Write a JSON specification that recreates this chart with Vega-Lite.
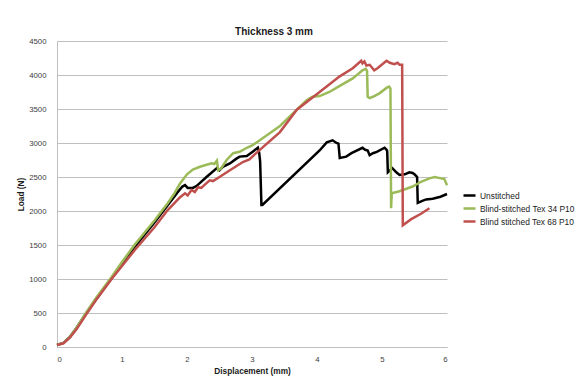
{
  "$schema": "https://vega.github.io/schema/vega-lite/v6.json",
  "width": 390,
  "height": 306,
  "autosize": {"type": "none"},
  "padding": {"left": 57, "top": 41, "right": 131, "bottom": 39},
  "background": "#ffffff",
  "title": {
    "text": "Thickness 3 mm",
    "font": "Liberation Sans",
    "fontSize": 10,
    "fontWeight": "bold",
    "color": "#1a1a1a",
    "anchor": "middle",
    "frame": "group",
    "baseline": "alphabetic",
    "offset": -8,
    "dx": 22
  },
  "config": {
    "view": {"stroke": null},
    "font": "Liberation Sans"
  },
  "data": {
    "values": [
      {"s": "Unstitched", "x": 0, "y": 30},
      {"s": "Unstitched", "x": 0.1, "y": 60},
      {"s": "Unstitched", "x": 0.2, "y": 150},
      {"s": "Unstitched", "x": 0.3, "y": 280},
      {"s": "Unstitched", "x": 0.45, "y": 500},
      {"s": "Unstitched", "x": 0.6, "y": 700},
      {"s": "Unstitched", "x": 0.84, "y": 1010},
      {"s": "Unstitched", "x": 1.0, "y": 1220},
      {"s": "Unstitched", "x": 1.2, "y": 1480},
      {"s": "Unstitched", "x": 1.5, "y": 1830},
      {"s": "Unstitched", "x": 1.7, "y": 2080},
      {"s": "Unstitched", "x": 1.85, "y": 2270},
      {"s": "Unstitched", "x": 1.93, "y": 2360},
      {"s": "Unstitched", "x": 1.97, "y": 2380},
      {"s": "Unstitched", "x": 2.01, "y": 2340},
      {"s": "Unstitched", "x": 2.09, "y": 2340},
      {"s": "Unstitched", "x": 2.15, "y": 2370},
      {"s": "Unstitched", "x": 2.3, "y": 2500},
      {"s": "Unstitched", "x": 2.46, "y": 2630},
      {"s": "Unstitched", "x": 2.5, "y": 2600},
      {"s": "Unstitched", "x": 2.55, "y": 2650},
      {"s": "Unstitched", "x": 2.66, "y": 2700},
      {"s": "Unstitched", "x": 2.76, "y": 2770},
      {"s": "Unstitched", "x": 2.81, "y": 2800},
      {"s": "Unstitched", "x": 2.92, "y": 2810},
      {"s": "Unstitched", "x": 3.01, "y": 2870},
      {"s": "Unstitched", "x": 3.09, "y": 2930},
      {"s": "Unstitched", "x": 3.11, "y": 2860},
      {"s": "Unstitched", "x": 3.125, "y": 2730},
      {"s": "Unstitched", "x": 3.145, "y": 2090},
      {"s": "Unstitched", "x": 3.16, "y": 2090},
      {"s": "Unstitched", "x": 4.04, "y": 2890},
      {"s": "Unstitched", "x": 4.15, "y": 3010},
      {"s": "Unstitched", "x": 4.24, "y": 3040},
      {"s": "Unstitched", "x": 4.3, "y": 3000},
      {"s": "Unstitched", "x": 4.33, "y": 2990},
      {"s": "Unstitched", "x": 4.35, "y": 2780},
      {"s": "Unstitched", "x": 4.45, "y": 2800},
      {"s": "Unstitched", "x": 4.53, "y": 2850},
      {"s": "Unstitched", "x": 4.7, "y": 2930},
      {"s": "Unstitched", "x": 4.74, "y": 2900},
      {"s": "Unstitched", "x": 4.78, "y": 2890},
      {"s": "Unstitched", "x": 4.81, "y": 2820},
      {"s": "Unstitched", "x": 4.86, "y": 2850},
      {"s": "Unstitched", "x": 4.92, "y": 2870},
      {"s": "Unstitched", "x": 5.04, "y": 2930},
      {"s": "Unstitched", "x": 5.07, "y": 2900},
      {"s": "Unstitched", "x": 5.08, "y": 2880},
      {"s": "Unstitched", "x": 5.09, "y": 2570},
      {"s": "Unstitched", "x": 5.16, "y": 2630},
      {"s": "Unstitched", "x": 5.22, "y": 2570},
      {"s": "Unstitched", "x": 5.27, "y": 2530},
      {"s": "Unstitched", "x": 5.35, "y": 2540},
      {"s": "Unstitched", "x": 5.42, "y": 2570},
      {"s": "Unstitched", "x": 5.47, "y": 2560},
      {"s": "Unstitched", "x": 5.5, "y": 2540},
      {"s": "Unstitched", "x": 5.54, "y": 2500},
      {"s": "Unstitched", "x": 5.55, "y": 2120},
      {"s": "Unstitched", "x": 5.62, "y": 2150},
      {"s": "Unstitched", "x": 5.68, "y": 2170},
      {"s": "Unstitched", "x": 5.78, "y": 2180},
      {"s": "Unstitched", "x": 5.9, "y": 2210},
      {"s": "Unstitched", "x": 6.0, "y": 2250},

      {"s": "Blind-stitched Tex 34 P10", "x": 0, "y": 30},
      {"s": "Blind-stitched Tex 34 P10", "x": 0.1, "y": 60},
      {"s": "Blind-stitched Tex 34 P10", "x": 0.2, "y": 150},
      {"s": "Blind-stitched Tex 34 P10", "x": 0.3, "y": 280},
      {"s": "Blind-stitched Tex 34 P10", "x": 0.45, "y": 510},
      {"s": "Blind-stitched Tex 34 P10", "x": 0.6, "y": 720},
      {"s": "Blind-stitched Tex 34 P10", "x": 0.84, "y": 1030},
      {"s": "Blind-stitched Tex 34 P10", "x": 1.0, "y": 1250},
      {"s": "Blind-stitched Tex 34 P10", "x": 1.2, "y": 1510},
      {"s": "Blind-stitched Tex 34 P10", "x": 1.5, "y": 1860},
      {"s": "Blind-stitched Tex 34 P10", "x": 1.7, "y": 2110},
      {"s": "Blind-stitched Tex 34 P10", "x": 1.8, "y": 2250},
      {"s": "Blind-stitched Tex 34 P10", "x": 1.89, "y": 2400},
      {"s": "Blind-stitched Tex 34 P10", "x": 2.0, "y": 2540},
      {"s": "Blind-stitched Tex 34 P10", "x": 2.09, "y": 2610},
      {"s": "Blind-stitched Tex 34 P10", "x": 2.2, "y": 2650},
      {"s": "Blind-stitched Tex 34 P10", "x": 2.3, "y": 2680},
      {"s": "Blind-stitched Tex 34 P10", "x": 2.38, "y": 2700},
      {"s": "Blind-stitched Tex 34 P10", "x": 2.42, "y": 2690},
      {"s": "Blind-stitched Tex 34 P10", "x": 2.46, "y": 2740},
      {"s": "Blind-stitched Tex 34 P10", "x": 2.48, "y": 2600},
      {"s": "Blind-stitched Tex 34 P10", "x": 2.52, "y": 2620},
      {"s": "Blind-stitched Tex 34 P10", "x": 2.61, "y": 2750},
      {"s": "Blind-stitched Tex 34 P10", "x": 2.71, "y": 2850},
      {"s": "Blind-stitched Tex 34 P10", "x": 2.81, "y": 2870},
      {"s": "Blind-stitched Tex 34 P10", "x": 2.92, "y": 2930},
      {"s": "Blind-stitched Tex 34 P10", "x": 3.01, "y": 2970},
      {"s": "Blind-stitched Tex 34 P10", "x": 3.12, "y": 3040},
      {"s": "Blind-stitched Tex 34 P10", "x": 3.43, "y": 3250},
      {"s": "Blind-stitched Tex 34 P10", "x": 3.69, "y": 3490},
      {"s": "Blind-stitched Tex 34 P10", "x": 3.84, "y": 3630},
      {"s": "Blind-stitched Tex 34 P10", "x": 3.93, "y": 3680},
      {"s": "Blind-stitched Tex 34 P10", "x": 4.04, "y": 3690},
      {"s": "Blind-stitched Tex 34 P10", "x": 4.19, "y": 3750},
      {"s": "Blind-stitched Tex 34 P10", "x": 4.35, "y": 3840},
      {"s": "Blind-stitched Tex 34 P10", "x": 4.55, "y": 3950},
      {"s": "Blind-stitched Tex 34 P10", "x": 4.7, "y": 4070},
      {"s": "Blind-stitched Tex 34 P10", "x": 4.75, "y": 4090},
      {"s": "Blind-stitched Tex 34 P10", "x": 4.77, "y": 4060},
      {"s": "Blind-stitched Tex 34 P10", "x": 4.78, "y": 3680},
      {"s": "Blind-stitched Tex 34 P10", "x": 4.81, "y": 3660},
      {"s": "Blind-stitched Tex 34 P10", "x": 4.86, "y": 3680},
      {"s": "Blind-stitched Tex 34 P10", "x": 4.96, "y": 3730},
      {"s": "Blind-stitched Tex 34 P10", "x": 5.07, "y": 3810},
      {"s": "Blind-stitched Tex 34 P10", "x": 5.11, "y": 3830},
      {"s": "Blind-stitched Tex 34 P10", "x": 5.13, "y": 3800},
      {"s": "Blind-stitched Tex 34 P10", "x": 5.14, "y": 2040},
      {"s": "Blind-stitched Tex 34 P10", "x": 5.15, "y": 2260},
      {"s": "Blind-stitched Tex 34 P10", "x": 5.27, "y": 2290},
      {"s": "Blind-stitched Tex 34 P10", "x": 5.47, "y": 2360},
      {"s": "Blind-stitched Tex 34 P10", "x": 5.6, "y": 2430},
      {"s": "Blind-stitched Tex 34 P10", "x": 5.73, "y": 2480},
      {"s": "Blind-stitched Tex 34 P10", "x": 5.81, "y": 2500},
      {"s": "Blind-stitched Tex 34 P10", "x": 5.91, "y": 2480},
      {"s": "Blind-stitched Tex 34 P10", "x": 5.96, "y": 2470},
      {"s": "Blind-stitched Tex 34 P10", "x": 6.0, "y": 2380},

      {"s": "Blind stitched Tex 68 P10", "x": 0, "y": 30},
      {"s": "Blind stitched Tex 68 P10", "x": 0.1, "y": 55},
      {"s": "Blind stitched Tex 68 P10", "x": 0.2, "y": 140},
      {"s": "Blind stitched Tex 68 P10", "x": 0.3, "y": 260},
      {"s": "Blind stitched Tex 68 P10", "x": 0.45, "y": 480},
      {"s": "Blind stitched Tex 68 P10", "x": 0.6, "y": 690},
      {"s": "Blind stitched Tex 68 P10", "x": 0.84, "y": 1000},
      {"s": "Blind stitched Tex 68 P10", "x": 1.0, "y": 1190},
      {"s": "Blind stitched Tex 68 P10", "x": 1.2, "y": 1430},
      {"s": "Blind stitched Tex 68 P10", "x": 1.5, "y": 1760},
      {"s": "Blind stitched Tex 68 P10", "x": 1.7, "y": 2010},
      {"s": "Blind stitched Tex 68 P10", "x": 1.89, "y": 2200},
      {"s": "Blind stitched Tex 68 P10", "x": 1.97, "y": 2260},
      {"s": "Blind stitched Tex 68 P10", "x": 2.01, "y": 2230},
      {"s": "Blind stitched Tex 68 P10", "x": 2.07, "y": 2310},
      {"s": "Blind stitched Tex 68 P10", "x": 2.12, "y": 2280},
      {"s": "Blind stitched Tex 68 P10", "x": 2.17, "y": 2350},
      {"s": "Blind stitched Tex 68 P10", "x": 2.22, "y": 2340},
      {"s": "Blind stitched Tex 68 P10", "x": 2.3, "y": 2410},
      {"s": "Blind stitched Tex 68 P10", "x": 2.35, "y": 2450},
      {"s": "Blind stitched Tex 68 P10", "x": 2.4, "y": 2440},
      {"s": "Blind stitched Tex 68 P10", "x": 2.5, "y": 2500},
      {"s": "Blind stitched Tex 68 P10", "x": 2.66, "y": 2600},
      {"s": "Blind stitched Tex 68 P10", "x": 2.86, "y": 2720},
      {"s": "Blind stitched Tex 68 P10", "x": 2.96, "y": 2760},
      {"s": "Blind stitched Tex 68 P10", "x": 3.12, "y": 2900},
      {"s": "Blind stitched Tex 68 P10", "x": 3.43, "y": 3160},
      {"s": "Blind stitched Tex 68 P10", "x": 3.69, "y": 3490},
      {"s": "Blind stitched Tex 68 P10", "x": 4.04, "y": 3750},
      {"s": "Blind stitched Tex 68 P10", "x": 4.35, "y": 3980},
      {"s": "Blind stitched Tex 68 P10", "x": 4.55, "y": 4100},
      {"s": "Blind stitched Tex 68 P10", "x": 4.68, "y": 4210},
      {"s": "Blind stitched Tex 68 P10", "x": 4.7, "y": 4170},
      {"s": "Blind stitched Tex 68 P10", "x": 4.73, "y": 4200},
      {"s": "Blind stitched Tex 68 P10", "x": 4.76, "y": 4140},
      {"s": "Blind stitched Tex 68 P10", "x": 4.81, "y": 4150},
      {"s": "Blind stitched Tex 68 P10", "x": 4.88, "y": 4070},
      {"s": "Blind stitched Tex 68 P10", "x": 4.93, "y": 4100},
      {"s": "Blind stitched Tex 68 P10", "x": 5.07, "y": 4210},
      {"s": "Blind stitched Tex 68 P10", "x": 5.12, "y": 4180},
      {"s": "Blind stitched Tex 68 P10", "x": 5.19, "y": 4160},
      {"s": "Blind stitched Tex 68 P10", "x": 5.24, "y": 4180},
      {"s": "Blind stitched Tex 68 P10", "x": 5.27, "y": 4150},
      {"s": "Blind stitched Tex 68 P10", "x": 5.31, "y": 4150},
      {"s": "Blind stitched Tex 68 P10", "x": 5.32, "y": 1790},
      {"s": "Blind stitched Tex 68 P10", "x": 5.45, "y": 1880},
      {"s": "Blind stitched Tex 68 P10", "x": 5.6, "y": 1960},
      {"s": "Blind stitched Tex 68 P10", "x": 5.73, "y": 2040}
    ]
  },
  "mark": {"type": "line", "strokeWidth": 2.5, "interpolate": "linear"},
  "encoding": {
    "x": {
      "field": "x",
      "type": "quantitative",
      "title": "Displacement (mm)",
      "scale": {"domain": [0, 6], "nice": false, "zero": false},
      "axis": {
        "values": [0, 1, 2, 3, 4, 5, 6],
        "format": "d",
        "grid": false,
        "ticks": false,
        "domainColor": "#bfbfbf",
        "labelFontSize": 7.8,
        "labelColor": "#404040",
        "labelPadding": 8,
        "titleFontSize": 8.3,
        "titleFontWeight": "bold",
        "titleColor": "#1a1a1a",
        "titlePadding": 4
      }
    },
    "y": {
      "field": "y",
      "type": "quantitative",
      "title": "Load (N)",
      "scale": {"domain": [0, 4500], "nice": false},
      "axis": {
        "values": [0, 500, 1000, 1500, 2000, 2500, 3000, 3500, 4000, 4500],
        "format": "d",
        "grid": true,
        "gridColor": "#bfbfbf",
        "gridWidth": 1,
        "ticks": false,
        "domainColor": "#bfbfbf",
        "labelFontSize": 7.8,
        "labelColor": "#404040",
        "labelPadding": 11,
        "titleFontSize": 8.3,
        "titleFontWeight": "bold",
        "titleColor": "#1a1a1a",
        "titlePadding": 3
      }
    },
    "color": {
      "field": "s",
      "type": "nominal",
      "scale": {
        "domain": ["Unstitched", "Blind-stitched Tex 34 P10", "Blind stitched Tex 68 P10"],
        "range": ["#000000", "#9bbb59", "#c0504d"]
      },
      "legend": {
        "title": null,
        "orient": "none",
        "legendX": 405,
        "legendY": 147,
        "symbolType": "stroke",
        "symbolSize": 144,
        "symbolStrokeWidth": 2.5,
        "labelFontSize": 8.4,
        "labelColor": "#1a1a1a",
        "labelOffset": 3,
        "rowPadding": -1.5
      }
    }
  }
}
